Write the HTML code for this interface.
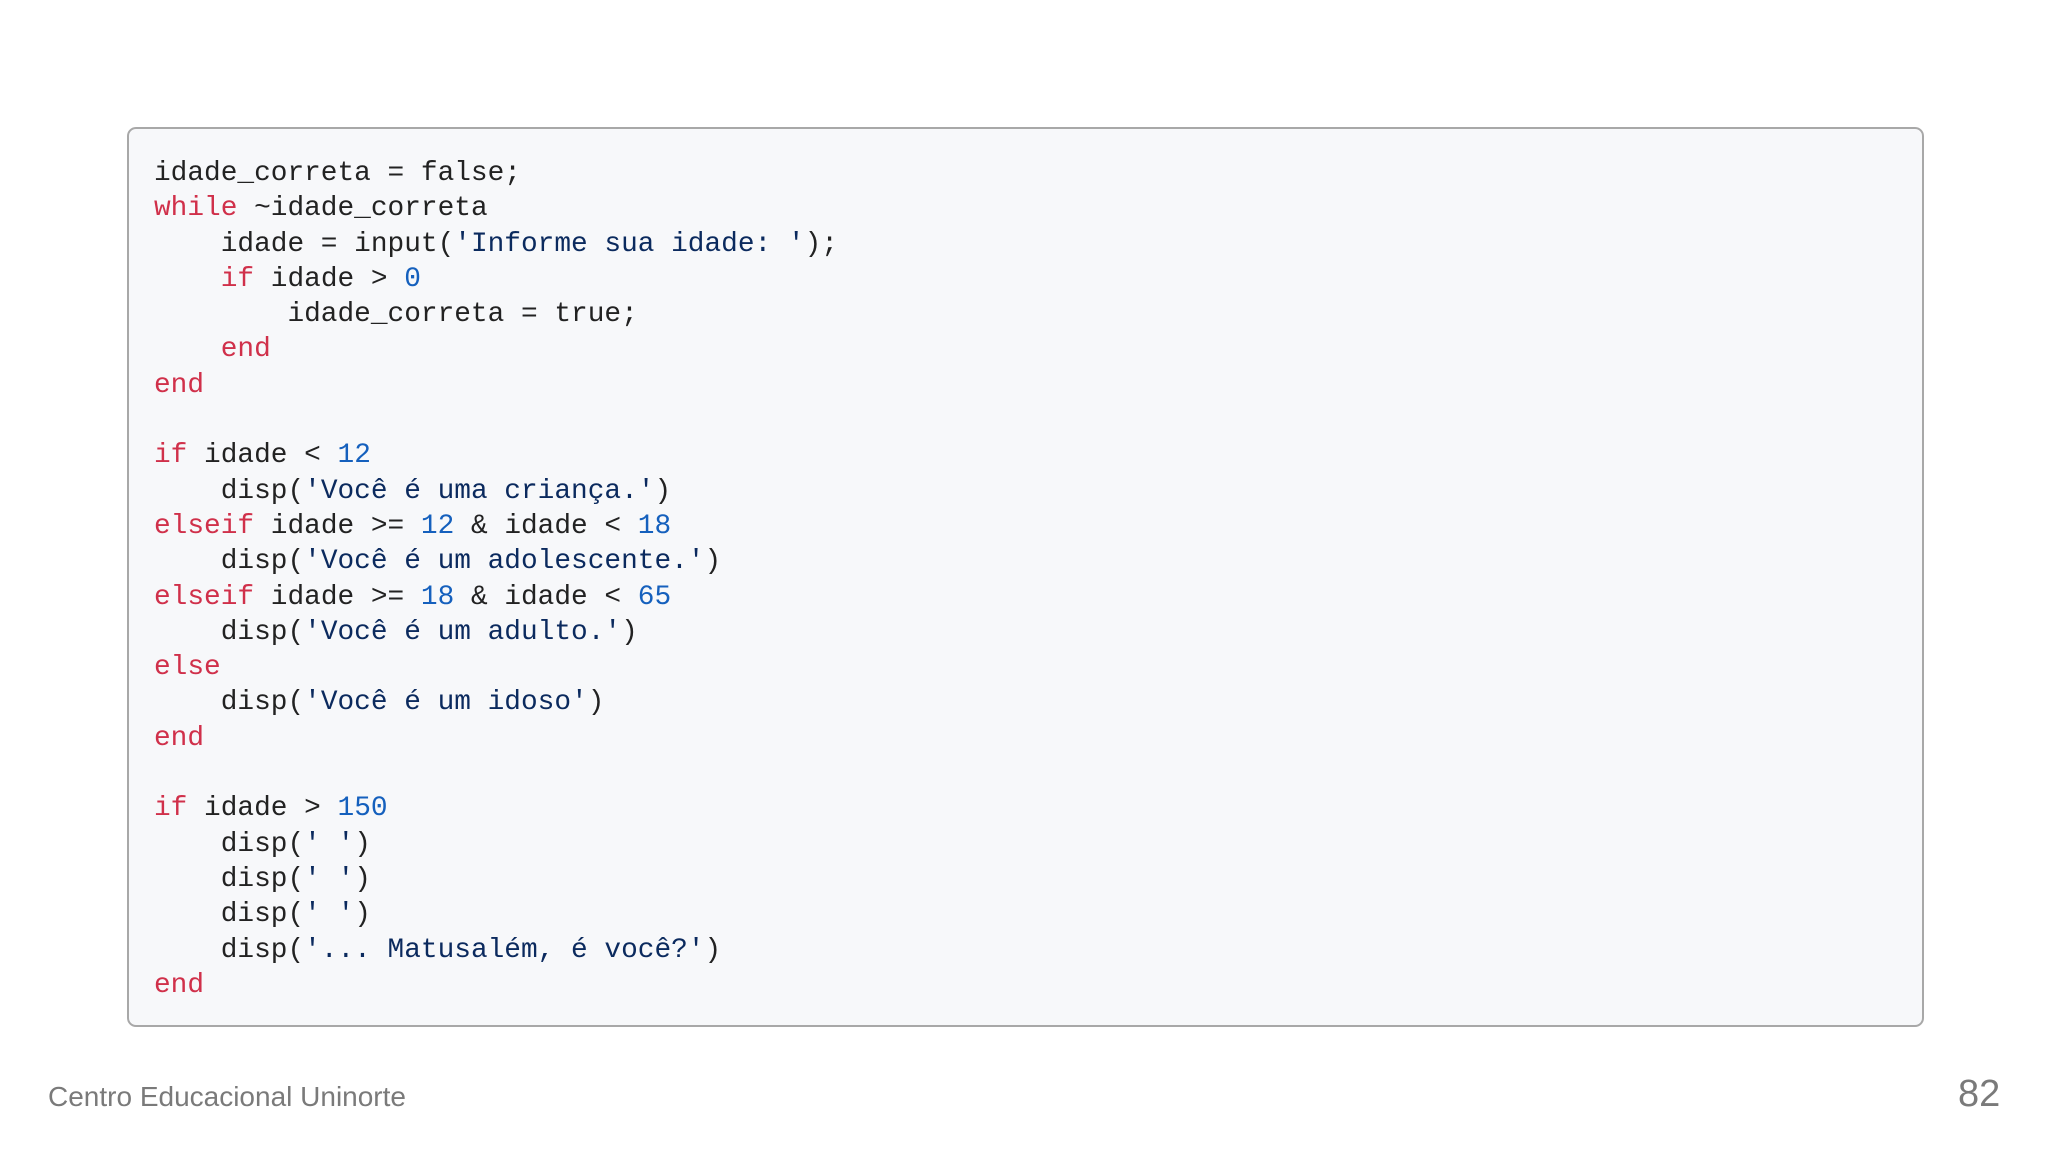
<!DOCTYPE html>
<html><head><meta charset="utf-8">
<style>
html,body{margin:0;padding:0;background:#fff;}
body{width:2048px;height:1152px;position:relative;overflow:hidden;}
.box{position:absolute;left:127px;top:127px;width:1797px;height:900px;border:2px solid #a8a8a8;border-radius:9px;background:#f7f8fa;box-sizing:border-box;}
pre{position:absolute;left:154px;top:156px;margin:0;font-family:"Liberation Mono",monospace;font-size:27.8px;line-height:35.3px;color:#222;}
.k{color:#d0304a}.s{color:#0b2a5e}.n{color:#1560bd}
.foot{position:absolute;left:48px;top:1081px;font-family:"Liberation Sans",sans-serif;font-size:28px;color:#7a7a7a;}
.num{position:absolute;left:1958px;top:1073px;font-family:"Liberation Sans",sans-serif;font-size:38px;color:#7a7a7a;}
</style></head><body>
<div class="box"></div>
<pre>idade_correta = false;
<span class="k">while</span> ~idade_correta
    idade = input(<span class="s">'Informe sua idade: '</span>);
    <span class="k">if</span> idade &gt; <span class="n">0</span>
        idade_correta = true;
    <span class="k">end</span>
<span class="k">end</span>

<span class="k">if</span> idade &lt; <span class="n">12</span>
    disp(<span class="s">'Você é uma criança.'</span>)
<span class="k">elseif</span> idade &gt;= <span class="n">12</span> &amp; idade &lt; <span class="n">18</span>
    disp(<span class="s">'Você é um adolescente.'</span>)
<span class="k">elseif</span> idade &gt;= <span class="n">18</span> &amp; idade &lt; <span class="n">65</span>
    disp(<span class="s">'Você é um adulto.'</span>)
<span class="k">else</span>
    disp(<span class="s">'Você é um idoso'</span>)
<span class="k">end</span>

<span class="k">if</span> idade &gt; <span class="n">150</span>
    disp(<span class="s">' '</span>)
    disp(<span class="s">' '</span>)
    disp(<span class="s">' '</span>)
    disp(<span class="s">'... Matusalém, é você?'</span>)
<span class="k">end</span></pre>
<div class="foot">Centro Educacional Uninorte</div>
<div class="num">82</div>
</body></html>
